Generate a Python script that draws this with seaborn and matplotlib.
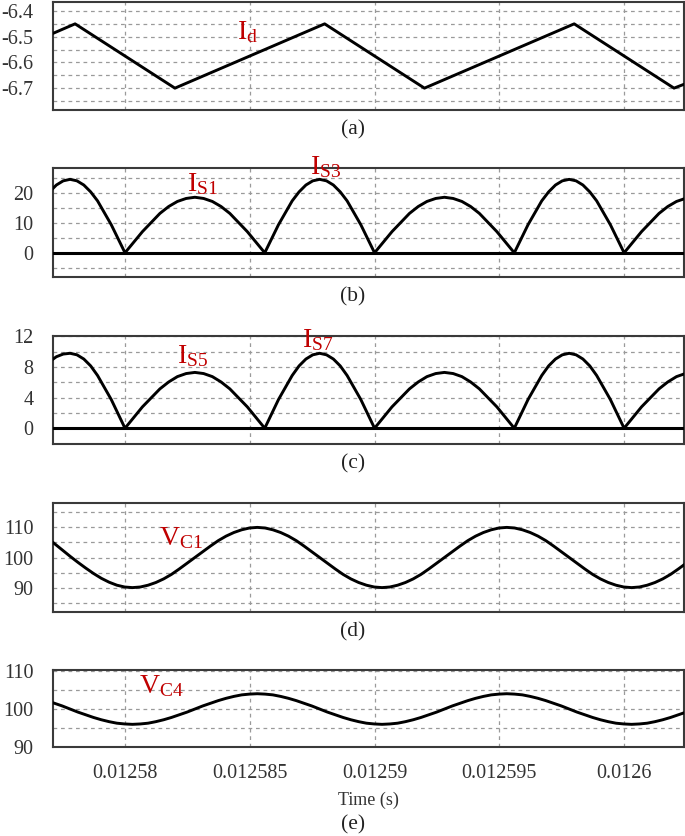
import seaborn as sns
import matplotlib.pyplot as plt
import pandas as pd
import numpy as np

# ----------------------------
# Waveform data
# times are offsets in microseconds from 0.01258 s
# ----------------------------
T0 = 0.01258

# (a) DC current Id - triangular ripple (vertices)
t_id = [-2.885, -2.0, 2.0, 8.0, 12.0, 18.0, 22.0, 22.4]
id_vals = [-6.487, -6.45, -6.70, -6.45, -6.70, -6.45, -6.70, -6.685]

# (b), (c) switch currents - rectified arches
t_sw = [-3.3, -3.025, -2.75, -2.475, -2.2, -1.925, -1.65, -1.375, -1.1, -0.55, 0.0,
        0.7, 1.4, 1.75, 2.1, 2.45, 2.8, 3.15, 3.5, 3.85, 4.2, 4.9, 5.6,
        6.15, 6.7, 6.975, 7.25, 7.525, 7.8, 8.075, 8.35, 8.625, 8.9, 9.45, 10.0,
        10.7, 11.4, 11.75, 12.1, 12.45, 12.8, 13.15, 13.5, 13.85, 14.2, 14.9, 15.6,
        16.15, 16.7, 16.975, 17.25, 17.525, 17.8, 18.075, 18.35, 18.625, 18.9, 19.45, 20.0,
        20.7, 21.4, 21.75, 22.1, 22.45]
is_13 = [17.4, 20.4, 22.7, 24.1, 24.6, 24.1, 22.7, 20.4, 17.4, 9.4, 0.0,
         7.1, 13.2, 15.5, 17.2, 18.2, 18.6, 18.2, 17.2, 15.5, 13.2, 7.1, 0.0,
         9.4, 17.4, 20.4, 22.7, 24.1, 24.6, 24.1, 22.7, 20.4, 17.4, 9.4, 0.0,
         7.1, 13.2, 15.5, 17.2, 18.2, 18.6, 18.2, 17.2, 15.5, 13.2, 7.1, 0.0,
         9.4, 17.4, 20.4, 22.7, 24.1, 24.6, 24.1, 22.7, 20.4, 17.4, 9.4, 0.0,
         7.1, 13.2, 15.5, 17.2, 18.2]
is_57 = [7.6, 8.7, 9.35, 9.7, 9.8, 9.6, 9.05, 8.15, 6.9, 3.75, 0.0,
         2.8, 5.15, 6.05, 6.75, 7.15, 7.3, 7.15, 6.75, 6.05, 5.15, 2.8, 0.0,
         3.75, 6.9, 8.15, 9.05, 9.6, 9.8, 9.6, 9.05, 8.15, 6.9, 3.75, 0.0,
         2.8, 5.15, 6.05, 6.75, 7.15, 7.3, 7.15, 6.75, 6.05, 5.15, 2.8, 0.0,
         3.75, 6.9, 8.15, 9.05, 9.6, 9.8, 9.6, 9.05, 8.15, 6.9, 3.75, 0.0,
         2.8, 5.15, 6.05, 6.75, 7.15]

# (d), (e) capacitor voltages
t_vc = [-3.1375, -2.825, -2.5125, -2.2, -1.8875, -1.575, -1.2625, -0.95, -0.6375, -0.325, -0.0125,
        0.3, 0.6125, 0.925, 1.2375, 1.55, 1.8625, 2.175, 2.4875, 2.8, 3.1125, 3.425, 3.7375,
        4.05, 4.3625, 4.675, 4.9875, 5.3, 5.6125, 5.925, 6.2375, 6.55, 6.8625, 7.175, 7.4875,
        7.8, 8.1125, 8.425, 8.7375, 9.05, 9.3625, 9.675, 9.9875,
        10.3, 10.6125, 10.925, 11.2375, 11.55, 11.8625, 12.175, 12.4875, 12.8, 13.1125, 13.425, 13.7375,
        14.05, 14.3625, 14.675, 14.9875, 15.3, 15.6125, 15.925, 16.2375, 16.55, 16.8625, 17.175, 17.4875,
        17.8, 18.1125, 18.425, 18.7375, 19.05, 19.3625, 19.675, 19.9875,
        20.3, 20.6125, 20.925, 21.2375, 21.55, 21.8625, 22.175, 22.4875]
vc_1 = [106.6, 104.6, 102.5, 100.4, 98.4, 96.5, 94.7, 93.1, 91.8, 90.8, 90.2,
        90.0, 90.2, 90.8, 91.7, 92.9, 94.4, 96.2, 98.1, 100.0, 101.9, 103.8, 105.6,
        107.1, 108.3, 109.2, 109.8, 110.0, 109.8, 109.2, 108.3, 107.1, 105.6, 103.8, 101.9,
        100.0, 98.1, 96.2, 94.4, 92.9, 91.7, 90.8, 90.2,
        90.0, 90.2, 90.8, 91.7, 92.9, 94.4, 96.2, 98.1, 100.0, 101.9, 103.8, 105.6,
        107.1, 108.3, 109.2, 109.8, 110.0, 109.8, 109.2, 108.3, 107.1, 105.6, 103.8, 101.9,
        100.0, 98.1, 96.2, 94.4, 92.9, 91.7, 90.8, 90.2,
        90.0, 90.2, 90.8, 91.7, 92.9, 94.4, 96.2, 98.1]
vc_4 = [102.2, 101.5, 100.8, 100.0, 99.2, 98.5, 97.8, 97.2, 96.7, 96.3, 96.1,
        96.0, 96.1, 96.3, 96.7, 97.2, 97.8, 98.5, 99.2, 100.0, 100.8, 101.5, 102.2,
        102.8, 103.3, 103.7, 103.9, 104.0, 103.9, 103.7, 103.3, 102.8, 102.2, 101.5, 100.8,
        100.0, 99.2, 98.5, 97.8, 97.2, 96.7, 96.3, 96.1,
        96.0, 96.1, 96.3, 96.7, 97.2, 97.8, 98.5, 99.2, 100.0, 100.8, 101.5, 102.2,
        102.8, 103.3, 103.7, 103.9, 104.0, 103.9, 103.7, 103.3, 102.8, 102.2, 101.5, 100.8,
        100.0, 99.2, 98.5, 97.8, 97.2, 96.7, 96.3, 96.1,
        96.0, 96.1, 96.3, 96.7, 97.2, 97.8, 98.5, 99.2]

x_ticks = [0.01258, 0.012585, 0.01259, 0.012595, 0.0126]
x_tick_labels = ["0.01258", "0.012585", "0.01259", "0.012595", "0.0126"]
panel_tags = ["(a)", "(b)", "(c)", "(d)", "(e)"]


def to_sec(us):
    return [T0 + u * 1e-6 for u in us]


# ----------------------------
# Style
# ----------------------------
sns.set_style("white")
plt.rcParams["font.family"] = ["Liberation Serif", "DejaVu Serif"]
plt.rcParams["mathtext.fontset"] = "custom"
plt.rcParams["mathtext.rm"] = "Liberation Serif"

RED = "#c00000"
GRID = "#9a9a9a"
FRAME = "#3a3a3a"
W, H = 685, 836

fig = plt.figure(figsize=(W / 100, H / 100), dpi=100)


def make_axes(top_px, bottom_px):
    return fig.add_axes([53 / W, 1 - bottom_px / H, 631 / W, (bottom_px - top_px) / H])


panels = [
    dict(box=(2, 110), t=t_id, y=id_vals, ylim=(-6.785, -6.365),
         yt=[-6.75, -6.7, -6.65, -6.6, -6.55, -6.5, -6.45, -6.4],
         ytl=["", "-6.7", "", "-6.6", "", "-6.5", "", "-6.4"], zero=False),
    dict(box=(168.3, 276.7), t=t_sw, y=is_13, ylim=(-8.0, 28.3),
         yt=[-5, 0, 5, 10, 15, 20, 25],
         ytl=["", "0", "", "10", "", "20", ""], zero=True),
    dict(box=(335.7, 444.3), t=t_sw, y=is_57, ylim=(-2.1, 12.1),
         yt=[0, 2, 4, 6, 8, 10, 12],
         ytl=["0", "", "4", "", "8", "", "12"], zero=True),
    dict(box=(502.7, 611.7), t=t_vc, y=vc_1, ylim=(82.0, 118.2),
         yt=[85, 90, 95, 100, 105, 110, 115],
         ytl=["", "90", "", "100", "", "110", ""], zero=False),
    dict(box=(670, 747.3), t=t_vc, y=vc_4, ylim=(90.0, 110.2),
         yt=[90, 95, 100, 105, 110],
         ytl=["90", "", "100", "", "110"], zero=False),
]

axes = []
for p in panels:
    ax = make_axes(*p["box"])
    df = pd.DataFrame({"t": to_sec(p["t"]), "v": p["y"]})
    if p["zero"]:
        ax.axhline(0, color="black", lw=2.2, zorder=3)
    sns.lineplot(data=df, x="t", y="v", ax=ax, color="black", lw=2.1,
                 estimator=None, sort=False, zorder=4)
    ax.set_xlim(T0 - 2.885e-6, T0 + 22.40e-6)
    ax.set_ylim(*p["ylim"])
    ax.set_yticks(p["yt"])
    ax.set_yticklabels(p["ytl"])
    ax.set_xticks(x_ticks)
    ax.set_xticklabels([])
    ax.set_xlabel("")
    ax.set_ylabel("")
    ax.grid(True, color=GRID, lw=0.9, linestyle=(0, (3, 3)))
    ax.tick_params(length=0, pad=14, labelsize=14.5, labelcolor="#333333")
    for s in ax.spines.values():
        s.set_color(FRAME)
        s.set_linewidth(1.5)
    axes.append(ax)

axes[-1].set_xticklabels(x_tick_labels)
axes[-1].tick_params(axis="x", pad=12)
axes[-1].set_xlabel("Time (s)", fontsize=13, color="#333333", labelpad=6)

# signal names
def tag(ax, x_us, y, main, sub, size=20):
    ax.text(T0 + x_us * 1e-6, y, r"$\mathregular{%s_{%s}}$" % (main, sub),
            color=RED, fontsize=size, va="baseline", ha="left", zorder=5)


tag(axes[0], 4.5, -6.51, "I", "d")
tag(axes[1], 2.5, 20.6, "I", "S1")
tag(axes[1], 7.4, 26.4, "I", "S3")
tag(axes[2], 2.1, 8.55, "I", "S5")
tag(axes[2], 7.1, 10.6, "I", "S7")
tag(axes[3], 1.35, 104.2, "V", "C1")
tag(axes[4], 0.55, 104.1, "V", "C4")

# panel captions
for lab, y_px in zip(panel_tags, [130, 297, 464, 632, 825]):
    fig.text(353 / W, 1 - y_px / H, lab, ha="center", va="center",
             fontsize=15.5, color="#222222")

plt.savefig("out.png", dpi=100)
plt.close()
